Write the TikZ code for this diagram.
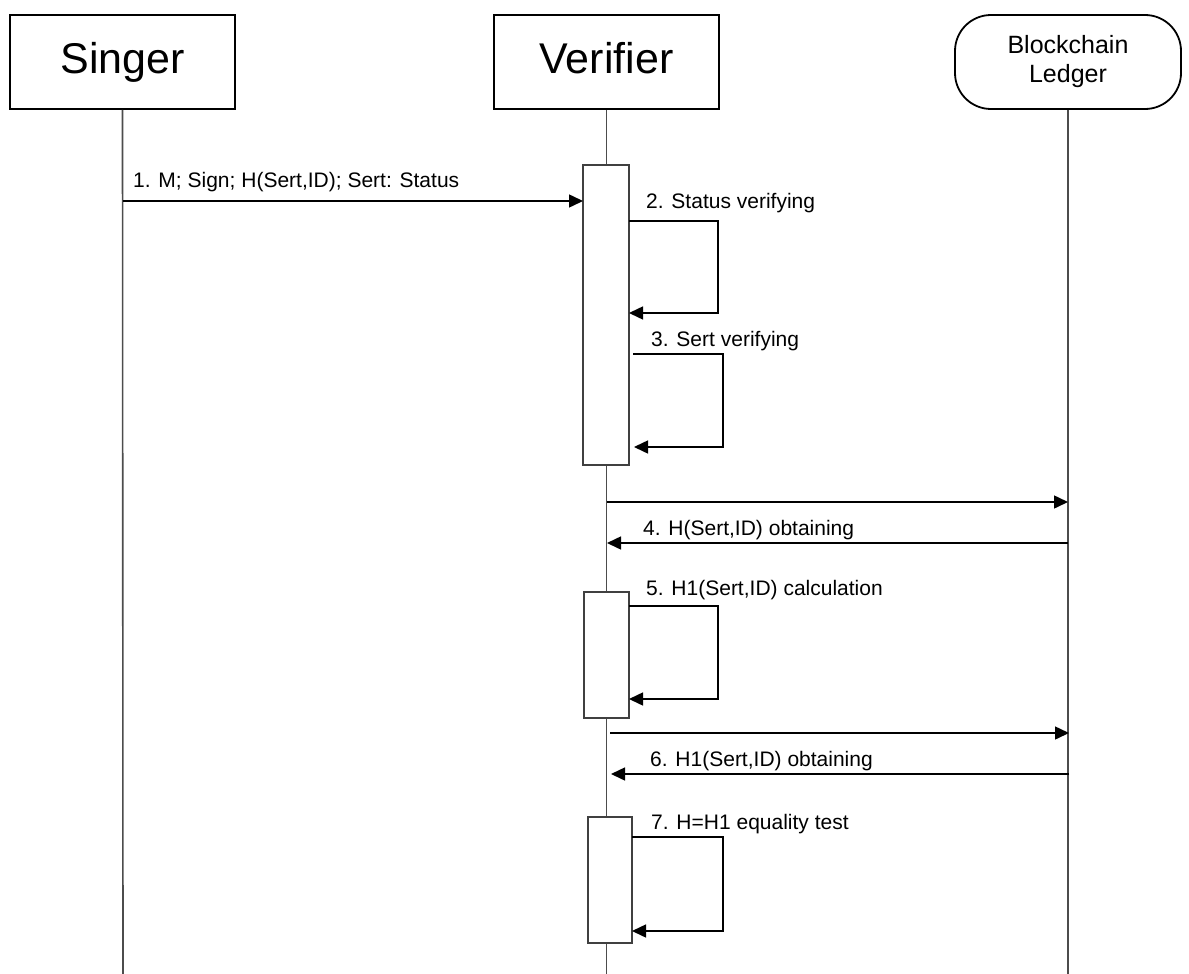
\documentclass[tikz,border=0pt]{standalone}
\usepackage{fontspec}
\setmainfont{Liberation Sans}
\usetikzlibrary{arrows.meta}
\begin{document}
\begin{tikzpicture}[x=1pt,y=-1pt,
  head/.style={draw, line width=1.8pt, fill=white, minimum width=225pt, minimum height=94pt, inner sep=0pt,
               text height=31pt, text depth=8pt, font=\fontsize{43}{47}\selectfont},
  ledger/.style={draw, line width=1.8pt, fill=white, minimum width=226pt, minimum height=94pt, inner sep=0pt,
               rounded corners=36pt, align=center, font=\fontsize{25}{29}\selectfont},
  act/.style={draw=black!75, line width=1.4pt, fill=white, inner sep=0pt},
  life/.style={draw=black!70, line width=1.6pt},
  msg/.style={line width=1.5pt, -{Triangle[length=14pt,width=13pt]}},
  lbl/.style={font=\fontsize{21}{24}\selectfont, anchor=base west, inner sep=0pt}]
\useasboundingbox (0,0) rectangle (1189,974);

% participants
\node[head] (singer) at (122.5,62) {Singer};
\node[head] (verifier) at (606.5,62) {Verifier};
\node[ledger] (ledger) at (1068,62) {Blockchain\\Ledger};

% lifelines
\coordinate (sEnd) at (123,974);
\coordinate (vEnd) at (606.5,974);
\coordinate (lEnd) at (1068,974);
\draw[life] (singer.south) -- (sEnd);
\draw[life] (verifier.south) -- (vEnd);
\draw[life] (ledger.south) -- (lEnd);

% activation bars
\node[act, minimum width=46pt, minimum height=300pt] (act1) at (606,315) {};
\node[act, minimum width=45pt, minimum height=126pt] (act2) at (606.5,655) {};
\node[act, minimum width=44pt, minimum height=126pt] (act3) at (610,880) {};

% 1. message from the signer
\coordinate (m1s) at (123,201);
\coordinate (m1e) at (583,201);
\draw[msg] (m1s) -- (m1e);
\node[lbl] (t1) at (133,187) {1. M; Sign; H(Sert,ID); Sert: Status};

% 2. status check
\coordinate (l2a) at (629,221);
\coordinate (l2b) at (718,221);
\coordinate (l2c) at (718,313);
\coordinate (l2d) at (629,313);
\draw[msg] (l2a) -- (l2b) -- (l2c) -- (l2d);
\node[lbl] (t2) at (646,208) {2. Status verifying};

% 3. certificate check
\coordinate (l3a) at (633,354);
\coordinate (l3b) at (723,354);
\coordinate (l3c) at (723,447);
\coordinate (l3d) at (634,447);
\draw[msg] (l3a) -- (l3b) -- (l3c) -- (l3d);
\node[lbl] (t3) at (651,346) {3. Sert verifying};

% 4. request / response with the ledger
\coordinate (r4a) at (607,502);
\coordinate (r4b) at (1068,502);
\draw[msg] (r4a) -- (r4b);
\coordinate (a4a) at (1068,543);
\coordinate (a4b) at (607,543);
\draw[msg] (a4a) -- (a4b);
\node[lbl] (t4) at (643,535) {4. H(Sert,ID) obtaining};

% 5. local hash calculation
\coordinate (l5a) at (629,606);
\coordinate (l5b) at (718,606);
\coordinate (l5c) at (718,699);
\coordinate (l5d) at (629,699);
\draw[msg] (l5a) -- (l5b) -- (l5c) -- (l5d);
\node[lbl] (t5) at (646,595) {5. H1(Sert,ID) calculation};

% 6. second request / response with the ledger
\coordinate (r6a) at (610,733);
\coordinate (r6b) at (1069,733);
\draw[msg] (r6a) -- (r6b);
\coordinate (a6a) at (1069,774);
\coordinate (a6b) at (611,774);
\draw[msg] (a6a) -- (a6b);
\node[lbl] (t6) at (650,766) {6. H1(Sert,ID) obtaining};

% 7. equality test
\coordinate (l7a) at (632,837);
\coordinate (l7b) at (723,837);
\coordinate (l7c) at (723,931);
\coordinate (l7d) at (632,931);
\draw[msg] (l7a) -- (l7b) -- (l7c) -- (l7d);
\node[lbl] (t7) at (651,829) {7. H=H1 equality test};
\end{tikzpicture}
\end{document}
